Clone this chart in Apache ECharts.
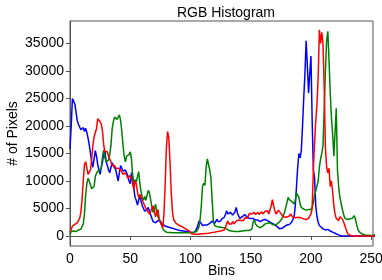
<!DOCTYPE html>
<html>
<head>
<meta charset="utf-8">
<script src="https://cdn.jsdelivr.net/npm/echarts@6.0.0/dist/echarts.min.js"></script>
<style>
  html, body { margin: 0; padding: 0; background: #fff; }
  #chart { width: 382px; height: 280px; }
</style>
</head>
<body>
<div id="chart"></div>
<script>
// [bin, pixel count]
var blueData = [[0,15800],[1,20000],[2,25000],[3,24800],[4,24000],[5,22500],[6,21000],[7,20300],[8,20200],[9,19300],[10,19500],[11,19700],[12,19000],[13,19600],[14,18800],[15,17800],[16,16500],[17,15000],[18,13500],[19,12500],[20,14000],[21,15500],[22,14500],[23,13000],[24,12000],[25,11200],[26,12500],[27,13500],[28,15000],[29,15500],[30,13500],[31,12800],[32,12000],[33,11500],[34,12500],[35,13300],[36,12800],[37,13000],[38,12000],[39,11800],[40,10000],[41,11500],[42,12800],[43,12300],[44,11800],[45,11500],[46,12000],[47,11500],[48,11000],[49,10000],[50,9500],[51,11500],[52,10500],[53,8500],[54,7000],[55,6500],[56,5600],[57,6500],[58,7500],[59,6300],[60,5500],[61,5000],[62,4500],[63,4300],[64,4800],[65,5200],[66,4400],[67,3800],[68,3200],[69,2600],[70,2500],[71,2400],[72,2400],[73,2800],[74,3100],[75,2700],[76,2300],[77,2000],[79,1800],[82,1600],[85,1400],[88,1200],[91,1000],[94,900],[97,800],[100,700],[102,600],[104,800],[105,1100],[106,1800],[107,2700],[108,2500],[109,2300],[110,1900],[112,2000],[114,2000],[116,2300],[118,2700],[120,2300],[121,2500],[122,3000],[123,2600],[124,2900],[125,2700],[126,3100],[127,2900],[128,3400],[129,3900],[130,4600],[131,4000],[132,3700],[133,4300],[134,4500],[135,3800],[136,3500],[137,4400],[138,5200],[139,4200],[140,3600],[141,3200],[142,3000],[143,3500],[144,3800],[145,3900],[146,3700],[147,3400],[148,3300],[149,3200],[150,3200],[152,3200],[154,2900],[156,2900],[158,2600],[159,2600],[160,2900],[162,3000],[163,3000],[164,2800],[166,2500],[168,2300],[170,2000],[172,1700],[174,1300],[176,1400],[178,1700],[180,2000],[182,2100],[184,2500],[185,2800],[186,3500],[187,5500],[188,9000],[189,12500],[190,15000],[191,14200],[192,15500],[193,20000],[194,25000],[195,29500],[196,35500],[197,31000],[198,26000],[199,29500],[200,32700],[201,21000],[202,12000],[203,10500],[204,5500],[205,3500],[206,2500],[207,1900],[208,1600],[210,1300],[212,1100],[214,1200],[216,900],[218,700],[220,500],[222,300],[224,100],[226,0],[255,0]];

var redData = [[0,700],[1,1200],[2,1800],[3,2000],[4,2100],[5,2300],[6,2400],[7,2700],[8,3200],[9,4300],[10,6500],[11,10000],[12,13000],[13,13500],[14,12300],[15,11200],[16,11000],[17,12000],[18,14000],[19,16500],[20,18000],[21,18800],[22,19500],[23,21300],[24,21000],[25,20800],[26,20300],[27,19000],[28,16500],[29,15300],[30,15500],[31,15300],[32,14500],[33,14000],[34,13500],[35,12800],[36,12500],[37,12800],[38,12300],[39,12000],[40,12300],[41,12600],[42,12000],[43,11800],[44,11200],[45,11000],[46,11500],[47,11200],[48,10500],[49,10200],[50,11000],[51,10500],[52,9500],[53,8500],[54,10000],[55,9500],[56,8000],[57,7000],[58,7500],[59,7000],[60,6500],[61,6000],[62,5500],[63,5000],[64,4600],[65,4300],[66,4000],[67,4200],[68,5000],[69,5500],[70,4500],[71,3500],[72,3800],[73,4800],[74,3200],[75,2500],[76,2000],[77,1500],[78,4000],[79,9500],[80,16000],[81,19000],[82,17800],[83,13500],[84,8000],[85,4500],[86,3000],[88,2300],[90,2000],[93,1700],[96,1300],[99,900],[101,400],[103,300],[106,300],[110,400],[115,500],[120,700],[125,900],[128,1100],[129,1500],[130,2200],[131,2700],[132,2200],[133,1900],[134,2200],[135,2600],[136,2200],[137,2300],[138,2700],[139,2400],[140,2900],[141,2600],[142,2800],[143,3100],[144,2800],[145,3300],[146,3600],[147,3200],[148,3500],[149,4100],[150,3800],[151,4000],[152,3700],[153,4300],[154,3900],[155,4000],[156,4300],[157,3900],[158,4100],[159,4400],[160,4000],[161,4200],[162,4500],[163,4200],[164,4600],[165,4000],[166,4300],[167,5500],[168,6600],[169,5500],[170,4600],[171,4000],[172,3900],[173,4700],[174,4800],[175,4100],[176,4200],[177,3500],[178,3300],[179,3400],[180,3600],[182,3600],[183,4000],[184,3700],[185,3400],[186,3500],[187,3300],[188,3600],[189,3400],[190,3200],[192,3300],[194,3100],[196,3000],[198,3200],[199,3500],[200,4000],[201,5000],[202,12000],[203,17000],[204,21000],[205,24000],[206,29000],[207,37500],[208,35000],[209,37000],[210,35000],[211,27000],[212,16000],[213,12500],[214,11500],[215,12300],[216,9000],[217,10000],[218,8000],[219,5500],[220,4000],[221,3200],[222,3400],[223,2800],[224,3500],[225,3700],[226,3100],[227,2600],[228,2000],[229,1300],[230,700],[231,300],[232,100],[234,0],[255,0]];

var greenData = [[0,300],[1,800],[2,1100],[3,900],[4,1000],[5,800],[6,900],[7,1100],[8,1000],[9,1200],[10,1400],[11,2200],[12,4000],[13,7500],[14,9500],[15,10500],[16,10000],[17,9300],[18,8600],[19,8400],[20,9000],[21,10800],[22,11400],[23,11800],[24,11500],[25,12000],[26,12500],[27,14500],[28,15600],[29,14200],[30,13500],[31,13200],[32,13800],[33,14800],[34,16500],[35,19500],[36,20800],[37,21600],[38,21300],[39,21200],[40,21500],[41,22000],[42,21000],[43,19000],[44,16500],[45,14500],[46,13500],[47,14500],[48,14300],[49,14800],[50,15300],[51,14000],[52,11000],[53,9800],[54,10200],[55,9800],[56,10800],[57,11700],[58,9500],[59,8000],[60,7000],[61,6500],[62,7200],[63,6500],[64,7500],[65,8300],[66,7800],[67,6500],[68,5200],[69,4300],[70,4800],[71,5800],[72,4300],[73,3500],[74,3000],[75,2500],[76,2000],[77,1400],[78,1000],[79,800],[80,700],[85,600],[90,600],[95,600],[100,600],[103,700],[105,800],[106,1000],[107,1600],[108,3000],[109,5500],[110,9000],[111,9600],[112,9200],[113,12500],[114,14000],[115,13700],[116,12000],[117,10500],[118,6500],[119,2800],[120,1900],[122,1700],[125,1600],[128,1500],[130,1300],[132,1000],[134,900],[137,800],[140,800],[143,900],[146,1000],[149,1000],[151,1300],[152,2500],[153,2900],[154,2200],[156,1700],[158,1500],[160,1800],[162,2200],[164,2300],[166,2400],[168,2100],[170,2000],[172,2200],[174,2600],[176,3200],[178,4200],[180,6000],[181,7000],[182,6600],[184,6300],[186,5800],[187,6500],[188,7800],[189,8000],[190,7000],[191,5800],[192,5200],[194,4900],[196,4700],[198,4800],[200,4800],[201,5300],[202,6000],[203,7500],[204,8200],[205,8200],[206,10000],[207,12500],[208,14000],[209,15000],[210,16500],[211,23000],[212,30000],[213,35500],[214,37200],[215,32000],[216,26000],[217,21500],[218,18500],[219,14500],[220,14500],[221,23200],[222,12000],[223,9000],[224,7000],[225,6000],[226,4900],[227,4000],[228,3300],[229,3100],[230,3000],[231,3000],[232,3100],[233,3000],[234,3200],[235,3500],[236,3700],[237,3000],[238,2000],[239,1200],[240,800],[242,400],[245,200],[250,100],[253,200],[255,700]];

var xTicks = [0, 50, 100, 150, 200, 250];
var yTicks = [0, 5000, 10000, 15000, 20000, 25000, 30000, 35000];

var font = "'Liberation Sans', Arial, sans-serif";
var chart = echarts.init(document.getElementById('chart'));

function axisStyle() {
    return {
        axisLine: { show: true, lineStyle: { color: '#555', width: 1 } },
        axisTick: { show: true, length: 4, lineStyle: { color: '#555' } },
        splitLine: { show: false },
        nameMoveOverlap: false,
        axisLabel: {
            color: '#000', fontSize: 14, fontFamily: font, margin: 6,
            formatter: function (v) { return String(v); }
        }
    };
}

var xAxis = axisStyle();
xAxis.type = 'value';
xAxis.min = 0;
xAxis.max = 251.5;
xAxis.name = 'Bins';
xAxis.nameLocation = 'middle';
xAxis.nameGap = 18;
xAxis.nameTextStyle = { color: '#000', fontSize: 14, fontFamily: font };
xAxis.axisTick.customValues = xTicks;
xAxis.axisLabel.customValues = xTicks;

var yAxis = axisStyle();
yAxis.type = 'value';
yAxis.min = -1820;
yAxis.max = 39080;
yAxis.name = '# of Pixels';
yAxis.nameLocation = 'middle';
yAxis.nameGap = 50;
yAxis.nameTextStyle = { color: '#000', fontSize: 14, fontFamily: font };
yAxis.axisTick.customValues = yTicks;
yAxis.axisLabel.customValues = yTicks;

function line(data, color) {
    return {
        type: 'line',
        data: data,
        symbol: 'none',
        clip: true,
        lineStyle: { color: color, width: 1.5 },
        itemStyle: { color: color }
    };
}

chart.setOption({
    animation: false,
    title: {
        text: 'RGB Histogram',
        left: 172,
        top: 1,
        textStyle: { color: '#000', fontSize: 14, fontWeight: 'normal', fontFamily: font }
    },
    grid: {
        left: 70, right: 9, top: 21, bottom: 34,
        containLabel: false,
        outerBoundsMode: 'none',
        show: true, borderColor: '#555', borderWidth: 1, backgroundColor: '#fff'
    },
    xAxis: xAxis,
    yAxis: yAxis,
    series: [
        line(blueData, '#0000ff'),
        line(greenData, '#008000'),
        line(redData, '#ff0000')
    ]
});
</script>
</body>
</html>
